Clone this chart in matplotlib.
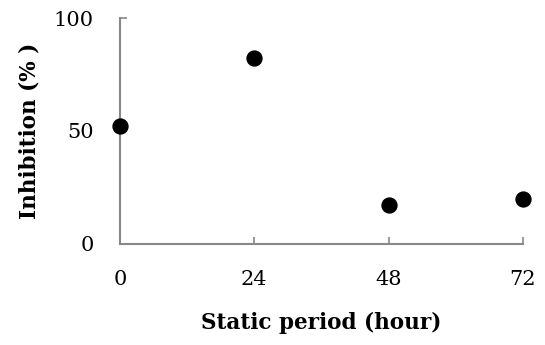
import matplotlib
matplotlib.use('Agg')
import matplotlib.pyplot as plt

# static period (hours) vs inhibition (%)
hours = [0, 24, 48, 72]
inhibition = [52.2, 82.3, 17.3, 19.8]
xticks = [0, 24, 48, 72]
yticks = [0, 50, 100]

plt.rcParams['font.family'] = ['DejaVu Serif']

fig = plt.figure(figsize=(5.45, 3.45), dpi=100)
ax = fig.add_axes([0.2202, 0.2928, 0.739, 0.655])

ax.scatter(hours, inhibition, s=115, color='black', zorder=3, clip_on=False)

ax.set_xlim(0, 72)
ax.set_ylim(0, 100)
ax.set_xticks(xticks)
ax.set_yticks(yticks)

for s in ['top', 'right']:
    ax.spines[s].set_visible(False)
for s in ['left', 'bottom']:
    ax.spines[s].set_color('#888888')
    ax.spines[s].set_linewidth(1.5)

ax.tick_params(axis='x', direction='in', length=5, width=1.2, color='#888888',
               pad=19, labelsize=15)
ax.tick_params(axis='y', direction='in', length=5, width=1.2, color='#888888',
               pad=19, labelsize=15)

ax.set_xlabel('Static period (hour)', fontsize=15.5, fontweight='bold', labelpad=16)
ax.set_ylabel('Inhibition (% )', fontsize=15.5, fontweight='bold', labelpad=9)

fig.savefig('out.png', dpi=100)
